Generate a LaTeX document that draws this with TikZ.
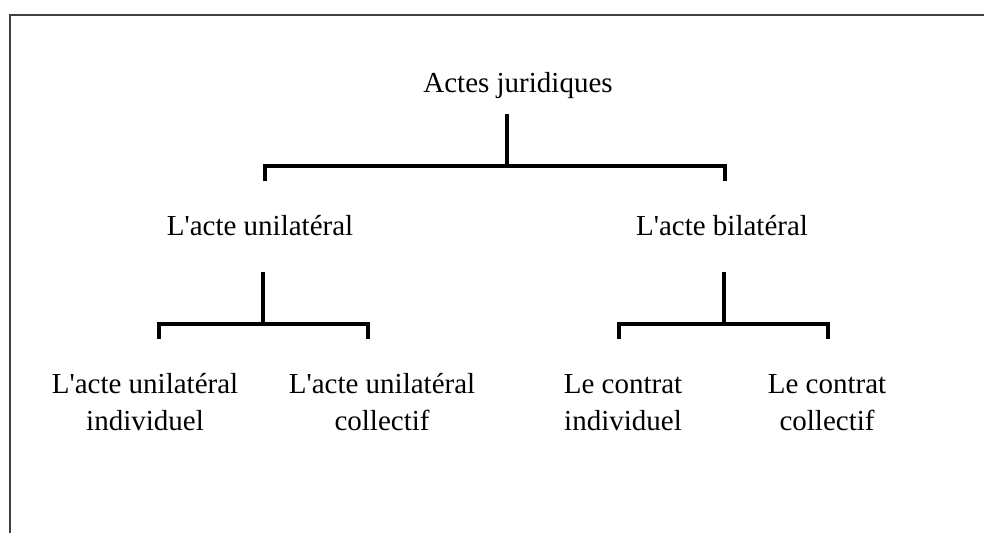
\documentclass[tikz,border=0pt]{standalone}
\usepackage{fontspec}
\setmainfont{Liberation Serif}
\tikzset{
  lbl/.style={font=\fontsize{29}{37}\selectfont, inner sep=0pt, anchor=base, align=center},
  link/.style={line width=3.6pt, black},
  frame/.style={line width=2.6pt, black!75}
}
\begin{document}
\begin{tikzpicture}[x=1pt,y=-1pt]
\useasboundingbox (0,0) rectangle (984,533);
\draw[frame] (10,533) -- (10,15) -- (984,15);
% labels
\node[lbl] (root) at (518,92) {Actes juridiques};
\node[lbl] (uni) at (260,235) {L\textquotesingle acte unilatéral};
\node[lbl] (bil) at (722,235) {L\textquotesingle acte bilatéral};
\node[lbl] (uniind) at (145,430) {L\textquotesingle acte unilatéral\\individuel};
\node[lbl] (unicol) at (382,430) {L\textquotesingle acte unilatéral\\collectif};
\node[lbl] (conind) at (623,430) {Le contrat\\individuel};
\node[lbl] (concol) at (827,430) {Le contrat\\collectif};
% fork points
\def\fork#1#2#3#4#5{
\coordinate (#1top) at (#2,#3);
\coordinate (#1mid) at (#2,#3+52);
\coordinate (#1l) at (#4,#3+67);
\coordinate (#1r) at (#5,#3+67);
\draw[link] (#1top) -- (#1mid);
\draw[link] (#1l) |- (#1mid) -| (#1r);
}
\fork{a}{507}{114}{265}{725}
\fork{b}{263}{272}{159}{368}
\fork{c}{724}{272}{619}{828}
\end{tikzpicture}
\end{document}
